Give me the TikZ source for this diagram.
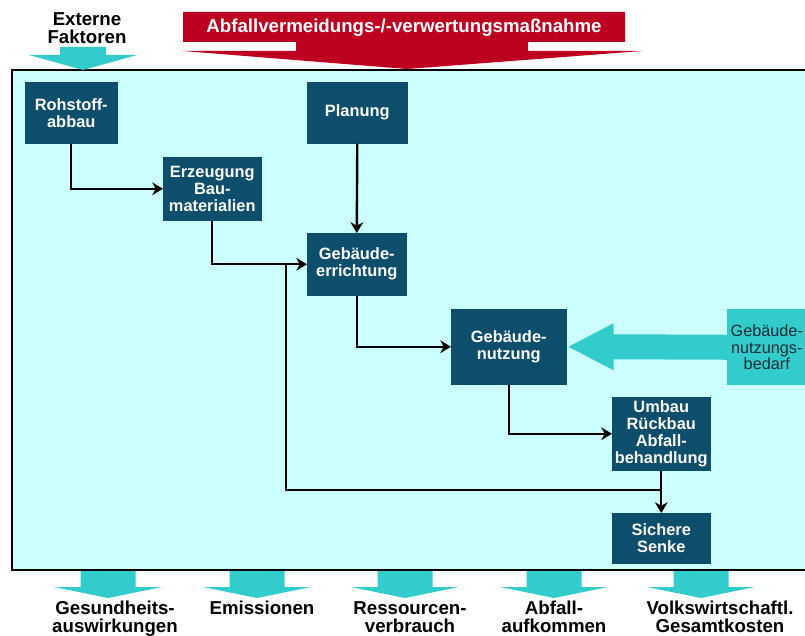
\documentclass[tikz,border=0pt]{standalone}
\usepackage{fontspec}
\setmainfont{Liberation Sans}
\usetikzlibrary{arrows.meta,calc}
\definecolor{dunkelblau}{RGB}{12,78,108}
\definecolor{tuerkis}{RGB}{51,204,204}
\definecolor{hellcyan}{RGB}{204,255,255}
\definecolor{signalrot}{RGB}{190,0,32}
\definecolor{textdunkel}{RGB}{20,45,55}

\begin{document}
\begin{tikzpicture}[x=0.75pt,y=0.75pt,yscale=-1,xscale=1,
  kasten/.style={draw=dunkelblau,fill=dunkelblau,text=white,align=center,anchor=north west,inner sep=0pt,
    font=\fontsize{12.3}{12.75}\selectfont\bfseries},
  fluss/.style={line width=1.8pt,-{Stealth[length=8pt,width=9.5pt,inset=2.5pt]}},
  linie/.style={line width=1.8pt},
  beschriftung/.style={align=center,anchor=north,inner sep=0pt,font=\fontsize{14}{13.5}\selectfont\bfseries}]
\useasboundingbox (0,0) rectangle (805,635);

%Shape: Arrow (Massnahme)
\fill[signalrot] (183,12) -- (625,12) -- (625,42) -- (528,42) -- (528,51) -- (642,51) -- (407,69)
  -- (183,51) -- (296,51) -- (296,42) -- (183,42) -- cycle;
% Text Node
\node[anchor=base,inner sep=0pt,text=white,font=\fontsize{14}{13.5}\selectfont\bfseries] (massnahme) at (404,33) {Abfallvermeidungs-/-verwertungsmaßnahme};

%Shape: Rectangle (System)
\draw[line width=1.2pt,fill=hellcyan] (12,70) rectangle (807,570);

%Shape: Arrow (Externe Faktoren)
\fill[tuerkis] (60,47) -- (106,47) -- (106,55) -- (137,55) -- (83,70) -- (29,55) -- (60,55) -- cycle;
% Text Node
\node[beschriftung] (extern) at (87,12) {Externe\\Faktoren};

% Boxes
\node[kasten,minimum width=69pt,minimum height=45.75pt] (rohstoff) at (25,82) {Rohstoff-\\abbau};
\node[kasten,minimum width=75pt,minimum height=45.75pt] (planung) at (307,82) {Planung};
\node[kasten,minimum width=73.5pt,minimum height=47.25pt] (erzeugung) at (163,157) {Erzeugung\\Bau-\\materialien};
\node[kasten,minimum width=74.25pt,minimum height=46.5pt] (errichtung) at (307,233) {Gebäude-\\errichtung};
\node[kasten,minimum width=86.25pt,minimum height=56.25pt] (nutzung) at (451,309) {Gebäude-\\nutzung};
\node[kasten,minimum width=73.5pt,minimum height=54.75pt] (umbau) at (612,397) {Umbau\\Rückbau\\Abfall-\\behandlung};
\node[kasten,minimum width=73.5pt,minimum height=37.5pt] (senke) at (612,513) {Sichere\\Senke};
\node[fill=tuerkis,text=textdunkel,align=center,anchor=north west,inner sep=0pt,minimum width=59.25pt,minimum height=57pt,
  font=\fontsize{12.2}{12.4}\selectfont] (bedarf) at (727,309) {Gebäude-\\nutzungs-\\bedarf};

%Shape: Arrow (Bedarf)
\fill[tuerkis] ($(nutzung.east)+(2,0)$) -- ++(45,-23.5) -- ++(0,11) -- ($(bedarf.west)+(1,-12.5)$) -- ++(0,25)
  -- ($(nutzung.east)+(47,12.5)$) -- ++(0,11) -- cycle;

% Connectors
\coordinate (abzweig) at (286,264.5);
\coordinate (muendung) at (umbau.south |- 0,490);
\draw[fluss] (rohstoff.south) |- (erzeugung.west);
\draw[fluss] (erzeugung.south) |- (errichtung.west);
\draw[fluss] (planung.south) -- (errichtung.north);
\draw[fluss] (errichtung.south) |- (nutzung.west);
\draw[fluss] (nutzung.south) |- (umbau.west);
\draw[linie] (abzweig) |- (muendung);
\draw[fluss] (umbau.south) -- (senke.north);

% Wirkungen
\foreach \px/\tx/\txt [count=\i] in {108/115/{Gesundheits-\\auswirkungen},257/262/{Emissionen},
  405/410/{Ressourcen-\\verbrauch},554/554/{Abfall-\\aufkommen},701/720/{Volkswirtschaftl.\\Gesamtkosten}}
{
  \fill[tuerkis] (\px-27.5,571) -- (\px+27.5,571) -- (\px+27.5,587) -- (\px+54,587) -- (\px,598)
    -- (\px-54,587) -- (\px-27.5,587) -- cycle;
  \node[beschriftung] (wirkung\i) at (\tx,601) {\txt};
}

\end{tikzpicture}
\end{document}
